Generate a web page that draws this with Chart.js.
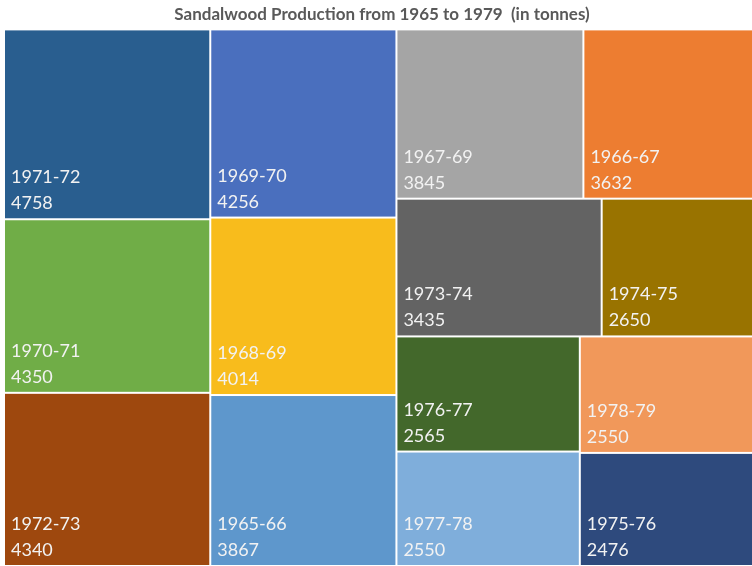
<!DOCTYPE html>
<html>
<head>
<meta charset="utf-8">
<script src="https://cdn.jsdelivr.net/npm/chart.js@4.4.1/dist/chart.umd.min.js"></script>
<style>
  html, body { margin: 0; padding: 0; background: #fff; width: 752px; height: 566px; overflow: hidden; }
  /* 原图右侧被裁掉一点，画布略宽 */
  #wrap { width: 760px; height: 566px; }
</style>
</head>
<body>
<div id="wrap"><canvas id="treeChart"></canvas></div>
<script>
// 数据：年份、产量（吨）、颜色
const categories = ['1971-72', '1970-71', '1972-73', '1969-70', '1968-69', '1965-66', '1967-69',
  '1966-67', '1973-74', '1974-75', '1976-77', '1977-78', '1978-79', '1975-76'];
const production = [4758, 4350, 4340, 4256, 4014, 3867, 3845, 3632, 3435, 2650, 2565, 2550, 2550, 2476];
const cellColors = ['#295E8F', '#70AD47', '#9E480E', '#4A6FBE', '#F8BC1C', '#5E97CC', '#A5A5A5',
  '#ED7D31', '#636363', '#997300', '#43682B', '#7FAEDB', '#F1985A', '#2E4A7D'];

// squarified 布局（像素比例下计算，再换成 0-1 的刻度值）
function worst(row, side) {
  const s = row.reduce((a, b) => a + b.area, 0);
  const max = Math.max(...row.map(r => r.area));
  const min = Math.min(...row.map(r => r.area));
  return Math.max(side * side * max / (s * s), (s * s) / (side * side * min));
}

function squarify(items, W, H) {
  const out = [];
  let rect = { x: 0, y: 0, w: W, h: H };
  let rest = items.slice();
  while (rest.length) {
    const side = Math.min(rect.w, rect.h);
    let row = [rest[0]];
    let i = 1;
    while (i < rest.length) {
      const next = row.concat(rest[i]);
      if (worst(next, side) <= worst(row, side)) { row = next; i++; } else break;
    }
    const s = row.reduce((a, b) => a + b.area, 0);
    if (rect.w >= rect.h) {
      const t = s / rect.h;
      let y = rect.y;
      row.forEach(r => { const h = r.area / t; out.push({ ...r, x: rect.x, y: y, w: t, h: h }); y += h; });
      rect = { x: rect.x + t, y: rect.y, w: rect.w - t, h: rect.h };
    } else {
      const t = s / rect.w;
      let x = rect.x;
      row.forEach(r => { const w = r.area / t; out.push({ ...r, x: x, y: rect.y, w: w, h: t }); x += w; });
      rect = { x: rect.x, y: rect.y + t, w: rect.w, h: rect.h - t };
    }
    rest = rest.slice(row.length);
  }
  return out;
}

const treemapPlugin = {
  id: 'treemap',
  afterDatasetsDraw(chart) {
    const { ctx, chartArea, scales } = chart;
    const W = chartArea.right - chartArea.left;
    const H = chartArea.bottom - chartArea.top;
    const total = production.reduce((a, b) => a + b, 0);
    const items = production
      .map((v, i) => ({ label: categories[i], value: v, color: cellColors[i], area: v / total * W * H }))
      .sort((a, b) => b.value - a.value);
    const cells = squarify(items, W, H);

    ctx.save();
    cells.forEach(c => {
      const x0 = scales.x.getPixelForValue(c.x / W);
      const x1 = scales.x.getPixelForValue((c.x + c.w) / W);
      const y0 = scales.y.getPixelForValue(c.y / H);
      const y1 = scales.y.getPixelForValue((c.y + c.h) / H);
      ctx.fillStyle = c.color;
      ctx.fillRect(x0 + 1, y0 + 1, x1 - x0 - 2, y1 - y0 - 2);

      // 标签：左下角
      ctx.fillStyle = '#F2F2F2';
      ctx.font = '18px Lato, "Open Sans", sans-serif';
      ctx.textAlign = 'left';
      ctx.textBaseline = 'alphabetic';
      ctx.fillText(c.label, x0 + 7, y1 - 36);
      ctx.fillText(String(c.value), x0 + 7, y1 - 10);
    });
    ctx.restore();
  }
};

new Chart(document.getElementById('treeChart'), {
  type: 'scatter',
  data: { datasets: [] },
  options: {
    responsive: true,
    maintainAspectRatio: false,
    animation: false,
    layout: { padding: { left: 4, right: 0, top: 0, bottom: 0 } },
    scales: {
      x: { type: 'linear', min: 0, max: 1, display: false },
      y: { type: 'linear', min: 0, max: 1, reverse: true, display: false }
    },
    plugins: {
      legend: { display: false },
      tooltip: { enabled: false },
      title: {
        display: true,
        text: 'Sandalwood Production from 1965 to 1979  (in tonnes)',
        color: '#595959',
        font: { family: 'Lato, "Open Sans", sans-serif', size: 17, weight: 'bold' },
        padding: { top: 4, bottom: 5 }
      }
    }
  },
  plugins: [treemapPlugin]
});
</script>
</body>
</html>
